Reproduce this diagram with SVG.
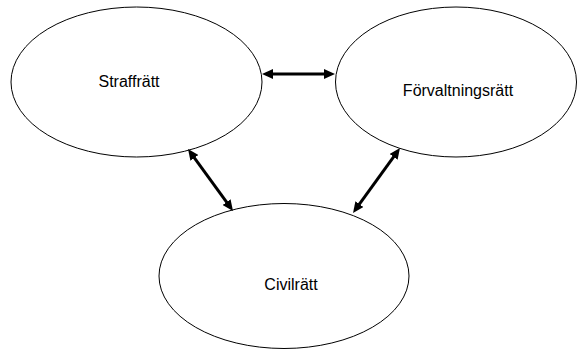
<svg xmlns="http://www.w3.org/2000/svg" width="577" height="349" viewBox="0 0 577 349">
<style>
.node ellipse{fill:#fff;stroke:#000;stroke-width:1}
.node text{font-family:"Liberation Sans",Arial,sans-serif;font-size:16px;fill:#000;text-anchor:middle}
.conn line{stroke:#000;stroke-width:3;marker-start:url(#ah);marker-end:url(#ah)}
</style>
<defs>
<marker id="ah" markerUnits="userSpaceOnUse" markerWidth="12" markerHeight="10" refX="2" refY="5" orient="auto-start-reverse" viewBox="0 0 12 10">
<path d="M0,0 L11,5 L0,10 z" fill="#000"/>
</marker>
</defs>
<rect width="577" height="349" fill="#fff"/>
<g id="straffratt" class="node">
<ellipse cx="136.5" cy="82" rx="125.5" ry="75"/>
<text x="129" y="87">Straffrätt</text>
</g>
<g id="forvaltningsratt" class="node">
<ellipse cx="456" cy="82" rx="120.5" ry="75"/>
<text x="458" y="96">Förvaltningsrätt</text>
</g>
<g id="civilratt" class="node">
<ellipse cx="284" cy="276" rx="125" ry="72.5"/>
<text x="291" y="290">Civilrätt</text>
</g>
<g id="connectors" class="conn">
<line x1="271" y1="74" x2="326" y2="74"/>
<line x1="193.3" y1="156.3" x2="227.7" y2="203.7"/>
<line x1="394.7" y1="155.3" x2="358.3" y2="205.7"/>
</g>
</svg>
